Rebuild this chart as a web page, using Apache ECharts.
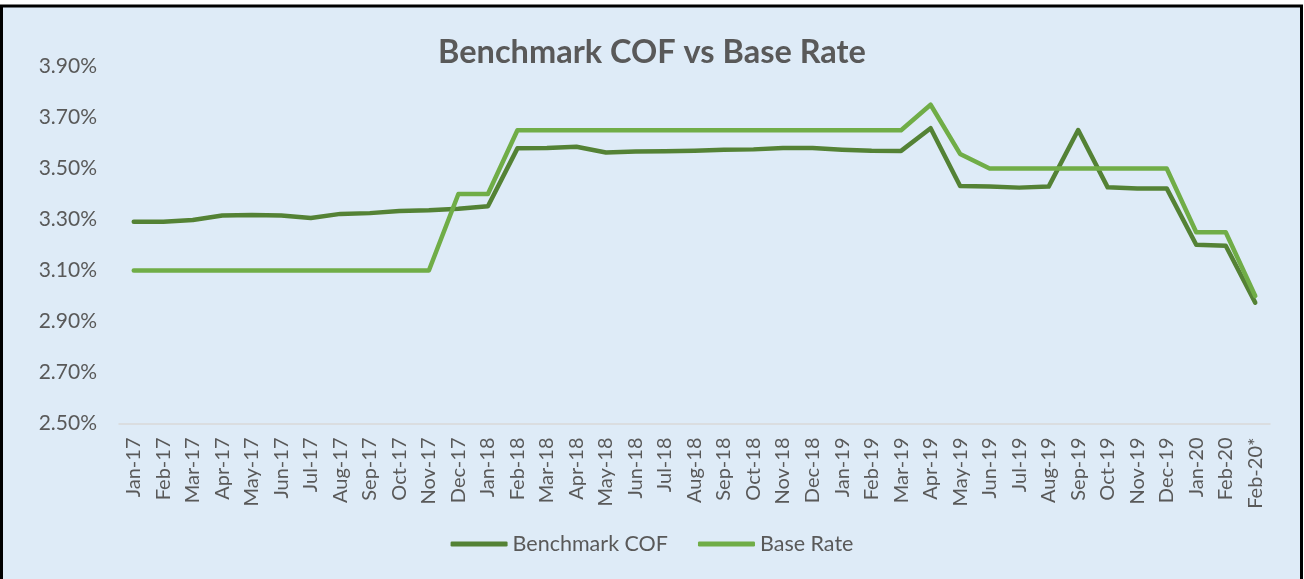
<!DOCTYPE html>
<html>
<head>
<meta charset="utf-8">
<title>Benchmark COF vs Base Rate</title>
<script src="https://cdn.jsdelivr.net/npm/echarts@6/dist/echarts.min.js"></script>
<style>
  html, body { margin: 0; padding: 0; background: #ffffff; }
  #chart { width: 1304px; height: 579px; }
</style>
</head>
<body>
<div id="chart"></div>
<script>
// 月份（最后一个是带星号的 Feb-20*）
var months = [
    'Jan-17', 'Feb-17', 'Mar-17', 'Apr-17', 'May-17', 'Jun-17', 'Jul-17', 'Aug-17', 'Sep-17', 'Oct-17', 'Nov-17', 'Dec-17',
    'Jan-18', 'Feb-18', 'Mar-18', 'Apr-18', 'May-18', 'Jun-18', 'Jul-18', 'Aug-18', 'Sep-18', 'Oct-18', 'Nov-18', 'Dec-18',
    'Jan-19', 'Feb-19', 'Mar-19', 'Apr-19', 'May-19', 'Jun-19', 'Jul-19', 'Aug-19', 'Sep-19', 'Oct-19', 'Nov-19', 'Dec-19',
    'Jan-20', 'Feb-20', 'Feb-20*'
];

// Benchmark COF（单位：%）
var benchmarkCof = [
    3.291, 3.291, 3.298, 3.316, 3.318, 3.316, 3.306, 3.322, 3.325, 3.333, 3.336, 3.342,
    3.352, 3.579, 3.580, 3.585, 3.563, 3.567, 3.568, 3.570, 3.574, 3.575, 3.580, 3.580,
    3.574, 3.570, 3.569, 3.658, 3.431, 3.429, 3.425, 3.429, 3.651, 3.426, 3.422, 3.422,
    3.201, 3.197, 2.974
];

// Base Rate（单位：%）
var baseRate = [
    3.10, 3.10, 3.10, 3.10, 3.10, 3.10, 3.10, 3.10, 3.10, 3.10, 3.10, 3.40,
    3.40, 3.65, 3.65, 3.65, 3.65, 3.65, 3.65, 3.65, 3.65, 3.65, 3.65, 3.65,
    3.65, 3.65, 3.65, 3.75, 3.557, 3.50, 3.50, 3.50, 3.50, 3.50, 3.50, 3.50,
    3.25, 3.25, 3.00
];

// y轴范围
var yMin = 2.5;
var yMax = 3.9;

var FONT = 'Lato';
var textGray = '#595959';

var chart = echarts.init(document.getElementById('chart'));

var option = {
    backgroundColor: '#ffffff',
    animation: false,
    // 外框 + 浅蓝底色
    graphic: [{
        type: 'rect',
        z: -10,
        shape: { x: 1.5, y: 6, width: 1300, height: 600 },
        style: { fill: '#DEEBF7', stroke: '#000000', lineWidth: 3 }
    }],
    title: {
        text: 'Benchmark COF vs Base Rate',
        left: 'center',
        top: 31,
        textStyle: { fontFamily: FONT, fontSize: 32.5, fontWeight: 'bold', color: textGray }
    },
    legend: {
        bottom: 19,
        left: 'center',
        icon: 'roundRect',
        itemWidth: 57,
        itemHeight: 5,
        itemGap: 30,
        textStyle: { fontFamily: FONT, fontSize: 21.5, color: textGray },
        data: ['Benchmark COF', 'Base Rate']
    },
    grid: {
        left: 119,
        right: 34,
        top: 66.5,
        bottom: 155.5
    },
    xAxis: {
        type: 'category',
        data: months,
        boundaryGap: true,
        axisLine: { lineStyle: { color: '#D9D9D9', width: 1.5 } },
        axisTick: { show: false },
        axisLabel: {
            interval: 0,
            rotate: 90,
            margin: 14,
            fontFamily: FONT,
            fontSize: 20,
            color: textGray
        }
    },
    yAxis: {
        type: 'value',
        min: yMin,
        max: yMax,
        interval: 0.1,
        axisLine: { show: false },
        axisTick: { show: false },
        splitLine: { show: false },
        axisLabel: {
            margin: 22,
            fontFamily: FONT,
            fontSize: 21,
            color: textGray,
            // 只显示 2.50, 2.70 ... 3.90
            formatter: function (v) {
                var k = Math.round(v * 10);
                if (k % 2 === 0) {
                    return '';
                }
                return v.toFixed(2) + '%';
            }
        }
    },
    series: [
        {
            name: 'Benchmark COF',
            type: 'line',
            data: benchmarkCof,
            showSymbol: false,
            symbol: 'none',
            itemStyle: { color: '#548235' },
            lineStyle: { color: '#548235', width: 4.5, cap: 'round', join: 'round' }
        },
        {
            name: 'Base Rate',
            type: 'line',
            data: baseRate,
            showSymbol: false,
            symbol: 'none',
            itemStyle: { color: '#70AD47' },
            lineStyle: { color: '#70AD47', width: 4.5, cap: 'round', join: 'round' }
        }
    ]
};

chart.setOption(option);
</script>
</body>
</html>
